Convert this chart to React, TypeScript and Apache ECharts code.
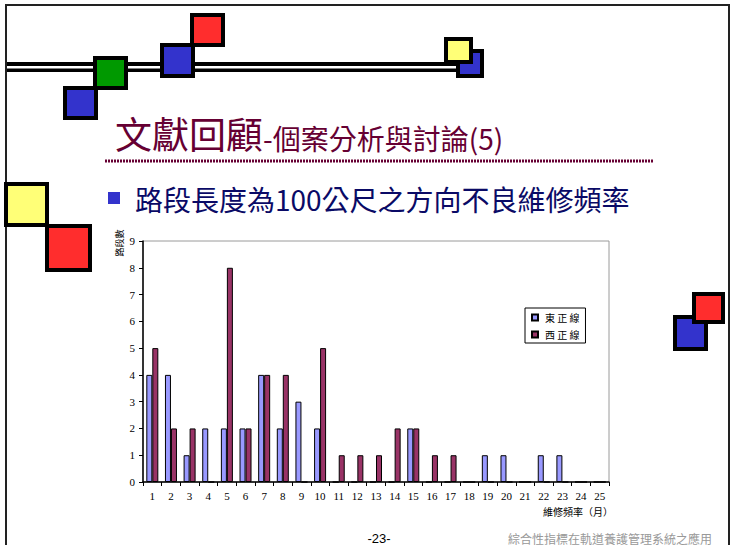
import React, { useEffect, useRef } from "react";
import * as echarts from "echarts";

// Maintenance frequency (months) on the x axis, count of road segments on the y axis
const categories = [
  "1", "2", "3", "4", "5", "6", "7", "8", "9", "10", "11", "12", "13",
  "14", "15", "16", "17", "18", "19", "20", "21", "22", "23", "24", "25",
];
const eastLine = [4, 4, 1, 2, 2, 2, 4, 2, 3, 2, 0, 0, 0, 0, 2, 0, 0, 0, 1, 1, 0, 1, 1, 0, 0];
const westLine = [5, 2, 2, 0, 8, 2, 4, 4, 0, 5, 1, 1, 1, 2, 2, 1, 1, 0, 0, 0, 0, 0, 0, 0, 0];
const seriesNames = ["東 正 線", "西 正 線"];

const CJK = '"Noto Sans CJK TC", "Noto Sans CJK SC", sans-serif';
const SERIF = '"Liberation Serif", "DejaVu Serif", serif';

// Outlined coloured tile used in the slide decoration
function tile(x: number, y: number, w: number, h: number, fill: string, z = 1) {
  return {
    type: "rect",
    z,
    shape: { x: x + 2, y: y + 2, width: w - 4, height: h - 4 },
    style: { fill, stroke: "#000", lineWidth: 4 },
  };
}

const RED = "#ff2d2d";
const BLUE = "#3333cc";
const GREEN = "#009900";
const YELLOW = "#ffff77";

export default function App() {
  const ref = useRef<HTMLDivElement>(null);

  useEffect(() => {
    if (!ref.current) return;
    const chart = echarts.init(ref.current, null, { renderer: "svg" });

    const decorations: any[] = [
      // slide frame
      { type: "line", z: 5, shape: { x1: 6, y1: 5, x2: 729, y2: 5 }, style: { stroke: "#222", lineWidth: 2 } },
      { type: "line", z: 5, shape: { x1: 6, y1: 4, x2: 6, y2: 545 }, style: { stroke: "#222", lineWidth: 2 } },
      { type: "line", z: 5, shape: { x1: 729, y1: 4, x2: 729, y2: 545 }, style: { stroke: "#222", lineWidth: 2 } },
      // double rule across the top
      { type: "rect", z: 1, shape: { x: 6, y: 62, width: 452, height: 10 }, style: { fill: "#000" } },
      { type: "rect", z: 1, shape: { x: 6, y: 66, width: 452, height: 2.5 }, style: { fill: "#fff" } },
      tile(63, 86, 35, 34, BLUE, 2),
      tile(93, 56, 35, 34, GREEN, 3),
      tile(190, 13, 35, 34, RED, 2),
      tile(160, 43, 35, 35, BLUE, 3),
      tile(456, 49, 28, 29, BLUE, 2),
      tile(444, 37, 29, 27, YELLOW, 3),
      tile(4, 182, 45, 45, YELLOW, 6),
      tile(45, 224, 47, 48, RED, 6),
      tile(673, 315, 35, 36, BLUE, 6),
      tile(692, 292, 33, 32, RED, 7),
    ];

    const texts: any[] = [
      {
        type: "text",
        z: 10,
        x: 115,
        y: 133,
        style: { text: "文獻回顧", fill: "#660033", font: `37px ${CJK}`, verticalAlign: "middle", align: "left" },
      },
      {
        type: "text",
        z: 10,
        x: 263,
        y: 138,
        style: { text: "-個案分析與討論(5)", fill: "#660033", font: `28px ${CJK}`, verticalAlign: "middle", align: "left" },
      },
      {
        type: "line",
        z: 10,
        shape: { x1: 105, y1: 161, x2: 653, y2: 161 },
        style: { stroke: "#660033", lineWidth: 3, lineDash: [2, 1] },
      },
      { type: "rect", z: 10, shape: { x: 108, y: 192, width: 12, height: 12 }, style: { fill: BLUE } },
      {
        type: "text",
        z: 10,
        x: 135,
        y: 199,
        style: { text: "路段長度為100公尺之方向不良維修頻率", fill: "#0a0a66", font: `28px ${CJK}`, verticalAlign: "middle", align: "left" },
      },
      {
        type: "text",
        z: 10,
        x: 119,
        y: 243,
        rotation: Math.PI / 2,
        style: { text: "路段數", fill: "#000", font: `9px ${CJK}`, verticalAlign: "middle", align: "center" },
      },
      {
        type: "text",
        z: 10,
        x: 578,
        y: 511,
        style: { text: "維修頻率（月）", fill: "#000", font: `10px ${CJK}`, verticalAlign: "middle", align: "center" },
      },
      {
        type: "text",
        z: 10,
        x: 379,
        y: 538,
        style: { text: "-23-", fill: "#000", font: `13px "Liberation Sans", Arial, sans-serif`, verticalAlign: "middle", align: "center" },
      },
      {
        type: "text",
        z: 10,
        x: 508,
        y: 538,
        style: { text: "綜合性指標在軌道養護管理系統之應用", fill: "#999", font: `12px ${CJK}`, verticalAlign: "middle", align: "left" },
      },
    ];

    chart.setOption({
      animation: false,
      backgroundColor: "#fff",
      graphic: { elements: [...decorations, ...texts] },
      grid: {
        left: 143,
        right: 122,
        top: 241,
        bottom: 63,
        show: true,
        borderColor: "#9a9a9a",
        borderWidth: 1,
        backgroundColor: "transparent",
      },
      legend: {
        orient: "vertical",
        left: 525,
        top: 308,
        padding: [3, 6, 2, 6],
        itemGap: 4,
        itemWidth: 6,
        itemHeight: 6,
        icon: "rect",
        borderColor: "#000",
        borderWidth: 1,
        backgroundColor: "#fff",
        textStyle: { fontSize: 10, lineHeight: 13, fontFamily: CJK, color: "#000", padding: [0, 0, 0, 2] },
        data: seriesNames,
      },
      xAxis: {
        type: "category",
        data: categories,
        boundaryGap: true,
        axisLine: { lineStyle: { color: "#000", width: 1.5 } },
        axisTick: { show: true, length: 4, lineStyle: { color: "#000" } },
        axisLabel: { fontSize: 11, fontFamily: SERIF, color: "#000", margin: 8, interval: 0 },
        splitLine: { show: false },
      },
      yAxis: {
        type: "value",
        min: 0,
        max: 9,
        interval: 1,
        axisLine: { show: true, lineStyle: { color: "#000", width: 1.5 } },
        axisTick: { show: true, length: 4, lineStyle: { color: "#000" } },
        axisLabel: { fontSize: 11, fontFamily: SERIF, color: "#000", margin: 8 },
        splitLine: { show: false },
      },
      series: [
        {
          name: seriesNames[0],
          type: "bar",
          data: eastLine,
          barWidth: 6,
          barGap: "0%",
          itemStyle: { color: "#9999ff", borderColor: "#000", borderWidth: 1 },
        },
        {
          name: seriesNames[1],
          type: "bar",
          data: westLine,
          barWidth: 6,
          barGap: "0%",
          itemStyle: { color: "#993366", borderColor: "#000", borderWidth: 1 },
        },
      ],
    });

    return () => chart.dispose();
  }, []);

  return (
    <div
      ref={ref}
      style={{ position: "absolute", left: 0, top: 0, width: 731, height: 545, background: "#fff" }}
    />
  );
}
